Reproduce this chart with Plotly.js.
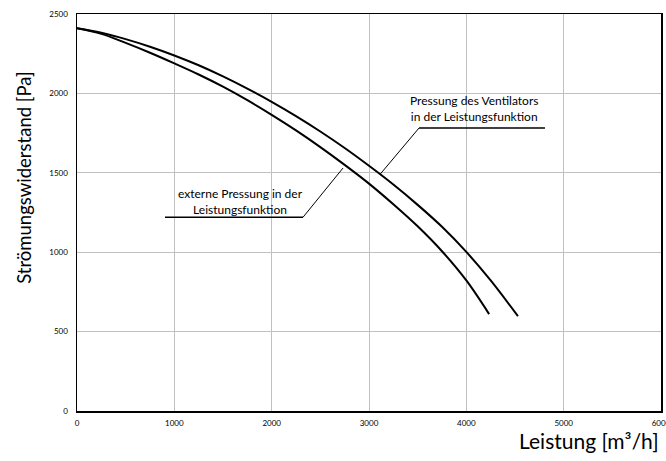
<!DOCTYPE html>
<html><head><meta charset="utf-8">
<script src="https://cdn.plot.ly/plotly-3.0.1.min.js"></script>
<style>body{margin:0;background:#fff}#chart{width:666px;height:461px}</style>
</head><body><div id="chart"></div>
<script>
// Pressung des Ventilators in der Leistungsfunktion
const ventX = [0, 250, 500, 750, 1000, 1250, 1500, 1750, 2000, 2250, 2500, 2750, 3000, 3250, 3500, 3750, 4000, 4250, 4530];
const ventY = [2410, 2382, 2342, 2294, 2239, 2177, 2107, 2030, 1947, 1857, 1760, 1656, 1544, 1426, 1298, 1160, 1002, 822, 597];
// externe Pressung in der Leistungsfunktion
const extX = [0, 250, 500, 750, 1000, 1250, 1500, 1750, 2000, 2250, 2500, 2750, 3000, 3250, 3500, 3750, 4000, 4234];
const extY = [2410, 2375, 2318, 2256, 2189, 2119, 2042, 1957, 1865, 1767, 1662, 1550, 1432, 1302, 1163, 1006, 822, 610];
const xTicks = [0, 1000, 2000, 3000, 4000, 5000, 6000];
const yTicks = [0, 500, 1000, 1500, 2000, 2500];
const labelVent = "Pressung des Ventilators<br>in der Leistungsfunktion";
const labelExt = "externe Pressung in der<br>Leistungsfunktion";
const xTitle = "Leistung [m³/h]";
const yTitle = "Strömungswiderstand [Pa]";

const line = {color: '#000', width: 2, shape: 'spline', smoothing: 1};
const traces = [
  {x: ventX, y: ventY, mode: 'lines', line: line, hoverinfo: 'skip'},
  {x: extX, y: extY, mode: 'lines', line: line, hoverinfo: 'skip'}
];
const font = "Lato, 'Open Sans', sans-serif";
const layout = {
  width: 666, height: 461,
  margin: {l: 77, r: 5, t: 14, b: 50},
  paper_bgcolor: '#fff', plot_bgcolor: '#fff',
  showlegend: false,
  font: {family: font, color: '#000'},
  xaxis: {range: [0, 6000], tickvals: xTicks, ticktext: xTicks.map(String),
    showgrid: true, gridcolor: '#c0c0c0', gridwidth: 1, zeroline: false,
    showline: true, linecolor: '#000', linewidth: 1.5, mirror: true,
    ticks: '', tickfont: {size: 8, family: font, color: '#000'}, ticklabelstandoff: 4,
    ticklabeloverflow: 'allow'},
  yaxis: {range: [0, 2500], tickvals: yTicks, ticktext: yTicks.map(String),
    showgrid: true, gridcolor: '#c0c0c0', gridwidth: 1, zeroline: false,
    showline: true, linecolor: '#000', linewidth: 1.5, mirror: true,
    ticks: '', tickfont: {size: 8, family: font, color: '#000'}, ticklabelstandoff: 6},
  shapes: [
    {type: 'line', xref: 'x', yref: 'y', x0: 3514, y0: 1782, x1: 4808, y1: 1782, line: {color: '#000', width: 1.3}},
    {type: 'line', xref: 'x', yref: 'y', x0: 3514, y0: 1782, x1: 3113, y1: 1490, line: {color: '#000', width: 1}},
    {type: 'line', xref: 'x', yref: 'y', x0: 904, y0: 1220, x1: 2322, y1: 1220, line: {color: '#000', width: 1.3}},
    {type: 'line', xref: 'x', yref: 'y', x0: 2322, y0: 1220, x1: 2733, y1: 1530, line: {color: '#000', width: 1}}
  ],
  annotations: [
    {xref: 'x', yref: 'y', x: 4080, y: 1906, text: labelVent, showarrow: false,
      font: {size: 12, family: font, color: '#000'}, align: 'center', xanchor: 'center', yanchor: 'middle'},
    {xref: 'x', yref: 'y', x: 1675, y: 1321, text: labelExt, showarrow: false,
      font: {size: 12, family: font, color: '#000'}, align: 'center', xanchor: 'center', yanchor: 'middle'},
    {xref: 'paper', yref: 'paper', x: 1.0, y: -0.037, xanchor: 'right', yanchor: 'top', text: xTitle,
      showarrow: false, font: {size: 21, family: font, color: '#000'}},
    {xref: 'paper', yref: 'paper', x: -0.091, y: 0.587, xanchor: 'center', yanchor: 'middle', text: yTitle,
      textangle: -90, showarrow: false, font: {size: 18.5, family: font, color: '#000'}}
  ]
};
Plotly.newPlot('chart', traces, layout, {staticPlot: true, displayModeBar: false});
</script></body></html>
